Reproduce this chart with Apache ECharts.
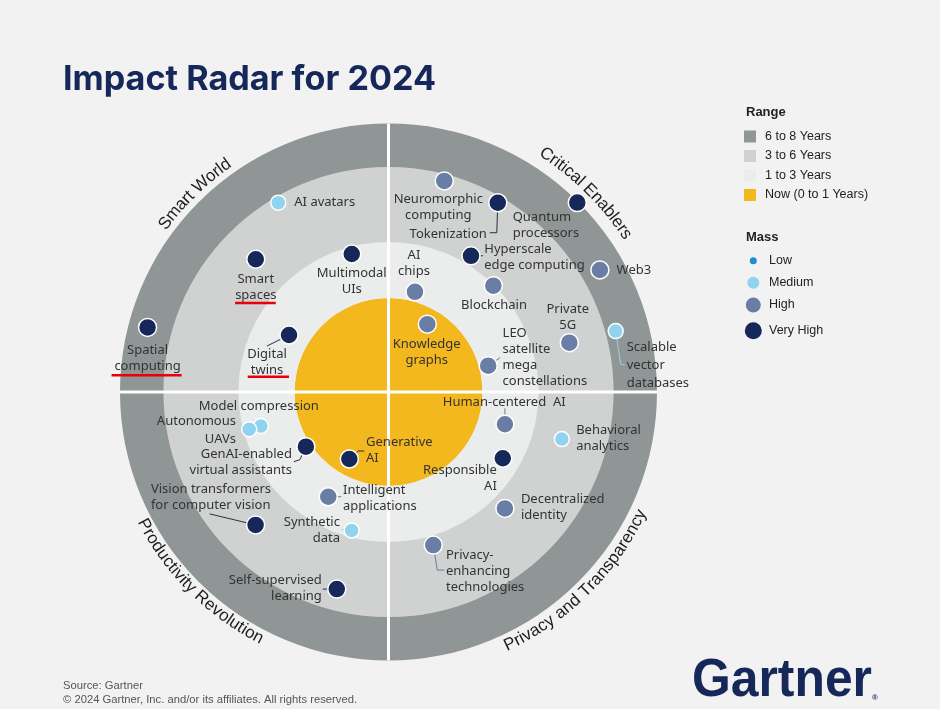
<!DOCTYPE html>
<html><head><meta charset="utf-8">
<script src="https://cdn.jsdelivr.net/npm/echarts@6/dist/echarts.min.js"></script>
<style>html,body{margin:0;padding:0;background:#f2f2f2;} #main{width:940px;height:709px;}</style>
</head><body><div id="main"></div>
<script>
// ---------------- data ----------------
const quadrants = ['Critical Enablers', 'Privacy and Transparency', 'Productivity Revolution', 'Smart World'];
const quadrantTitleAngle = [45.2, 314.7, 225.2, 134.4];     // degrees, anticlockwise from east
const ranges = ['Now (0 to 1 Years)', '1 to 3 Years', '3 to 6 Years', '6 to 8 Years'];
const rangeOuter = [35, 55.9, 83.8, 100];                    // ring outer edge, radar distance units
const massLevels = ['Low', 'Medium', 'High', 'Very High'];

const techNames = ['AI avatars', 'Smart spaces', 'Multimodal UIs', 'Spatial computing', 'Digital twins',
  'Neuromorphic computing', 'Tokenization', 'Quantum processors', 'Hyperscale edge computing', 'Web3',
  'AI chips', 'Blockchain', 'Private 5G', 'Scalable vector databases', 'Knowledge graphs',
  'LEO satellite mega constellations', 'Model compression', 'Autonomous UAVs',
  'GenAI-enabled virtual assistants', 'Generative AI', 'Vision transformers for computer vision',
  'Intelligent applications', 'Synthetic data', 'Self-supervised learning', 'Human-centered AI',
  'Behavioral analytics', 'Responsible AI', 'Decentralized identity', 'Privacy-enhancing technologies'];
const techLabels = ['AI avatars', 'Smart\nspaces', 'Multimodal\nUIs', 'Spatial\ncomputing', 'Digital\ntwins',
  'Neuromorphic\ncomputing', 'Tokenization', 'Quantum\nprocessors', 'Hyperscale\nedge computing', 'Web3',
  'AI\nchips', 'Blockchain', 'Private\n5G', 'Scalable\nvector\ndatabases', 'Knowledge\ngraphs',
  'LEO\nsatellite\nmega\nconstellations', 'Model compression', 'Autonomous\nUAVs',
  'GenAI-enabled\nvirtual assistants', 'Generative\nAI', 'Vision transformers\nfor computer vision',
  'Intelligent\napplications', 'Synthetic\ndata', 'Self-supervised\nlearning', 'Human-centered  AI',
  'Behavioral\nanalytics', 'Responsible\nAI', 'Decentralized\nidentity', 'Privacy-\nenhancing\ntechnologies'];
const techRadius = [81.6, 69.9, 53.2, 92.9, 42.7, 81.3, 81.4, 99.6, 59.3, 90.9, 38.6, 55.6, 69.8, 87.6, 29.1,
  38.4, 49.2, 53.7, 36.9, 28.9, 70.0, 45.0, 53.4, 75.9, 45.0, 66.9, 49.2, 61.3, 59.4];
const techAngle = [120.2, 135.0, 104.9, 165.0, 150.2, 75.2, 60.0, 45.1, 58.8, 30.0, 75.2, 45.4, 15.25, 15.0, 60.2,
  14.8, 194.9, 195.0, 213.5, 239.7, 225.0, 240.1, 255.1, 255.3, 344.5, 344.8, 329.9, 315.0, 286.3];
const techMass = ['Medium', 'Very High', 'Very High', 'Very High', 'Very High',
  'High', 'Very High', 'Very High', 'Very High', 'High',
  'High', 'High', 'High', 'Medium', 'High',
  'High', 'Medium', 'Medium', 'Very High', 'Very High', 'Very High',
  'High', 'Medium', 'Very High', 'High',
  'Medium', 'Very High', 'High', 'High'];

// ---------------- layout / style (not data) ----------------
const CX = 388.5, CY = 392, R = 268.5;
const quadrantTitleRadiusPx = [285, 280, 278, 279.5];
const rangeColors = ['#f4b81f', '#ebecec', '#d0d1d1', '#8f9695'];
const massColors = {'Low': '#1a8fd0', 'Medium': '#8fd3ef', 'High': '#6a7da5', 'Very High': '#16285a'};
const massSizes = {'Low': 7, 'Medium': 15, 'High': 18, 'Very High': 18};
// label anchor offset from dot centre [dx, dy, align, lineHeight]
const labelPos = {
  'AI avatars': [16, 0, 'left'], 'Smart spaces': [0, 28, 'center'], 'Multimodal UIs': [0, 27, 'center'],
  'Spatial computing': [0, 31, 'center'], 'Digital twins': [-22, 27.5, 'center'],
  'Neuromorphic computing': [-6, 26, 'center'], 'Tokenization': [-11, 31.6, 'right'],
  'Quantum processors': [-64.6, 22.6, 'left'], 'Hyperscale edge computing': [13.3, 1.3, 'left'],
  'Web3': [16.7, 0, 'left'], 'AI chips': [-1, -28.7, 'center'], 'Blockchain': [0.7, 20, 'center'],
  'Private 5G': [-1.6, -25.7, 'center'], 'Scalable vector databases': [11, 34.3, 'left', 18],
  'Knowledge graphs': [-0.6, 27.7, 'center'], 'LEO satellite mega constellations': [14.4, -8.2, 'left'],
  'Model compression': [-2, -19.3, 'center'], 'Autonomous UAVs': [-13.3, 0.7, 'right', 18],
  'GenAI-enabled virtual assistants': [-14, 16, 'right'], 'Generative AI': [16.7, -8.2, 'left'],
  'Vision transformers for computer vision': [-104.7, -27.5, 'left'],
  'Intelligent applications': [14.7, 1.3, 'left'], 'Synthetic data': [-11.7, 0, 'right'],
  'Self-supervised learning': [-15, -1, 'right'], 'Human-centered AI': [-0.7, -22, 'center'],
  'Behavioral analytics': [14.3, -0.3, 'left'], 'Responsible AI': [-6, 20, 'right'],
  'Decentralized identity': [16, -0.6, 'left'], 'Privacy-enhancing technologies': [12.7, 26, 'left']
};
const connectors = {
  'Digital twins': [[0, 0], [-22, 11]], 'Tokenization': [[0, 0], [-1, 30], [-8, 30]],
  'Scalable vector databases': [[0, 0], [5, 33], [9, 34]], 'Privacy-enhancing technologies': [[0, 0], [4, 25], [11, 25]],
  'GenAI-enabled virtual assistants': [[0, 0], [-6, 13], [-12, 15]], 'Generative AI': [[0, 0], [9, -8], [15, -8]],
  'Vision transformers for computer vision': [[0, 0], [-46, -11]], 'Self-supervised learning': [[0, 0], [-14, 0]],
  'Intelligent applications': [[0, 0], [13, 0]], 'Synthetic data': [[0, 0], [-10, -1]],
  'Human-centered AI': [[0, 0], [0, -16]], 'LEO satellite mega constellations': [[0, 0], [12, -8]],
  'Hyperscale edge computing': [[0, 0], [12, 0]]
};
const underlines = { 'Smart spaces': [-20.7, 20, 43.6], 'Spatial computing': [-36, 34, 47.8], 'Digital twins': [-41.3, 0, 41.8] };

// ---------------- curved quadrant titles ----------------
const ringFont = '17px "Liberation Sans", Arial, sans-serif';
const mctx = document.createElement('canvas').getContext('2d');
mctx.font = ringFont;
const ringChars = [];
quadrants.forEach((q, qi) => {
  const top = quadrantTitleAngle[qi] < 180;
  const rPx = quadrantTitleRadiusPx[qi];
  const total = mctx.measureText(q).width;
  let s = -total / 2;
  for (const ch of q) {
    const w = mctx.measureText(ch).width;
    const mid = s + w / 2; s += w;
    const d = mid / rPx * 180 / Math.PI;
    const a = top ? quadrantTitleAngle[qi] - d : quadrantTitleAngle[qi] + d;
    ringChars.push({ ch, r: rPx / R * 100, a, rot: top ? a - 90 : a - 270 });
  }
});

const chart = echarts.init(document.getElementById('main'), null, { renderer: 'canvas' });

const ringSeries = ranges.map((name, i) => ({
  type: 'bar', name, coordinateSystem: 'polar', polarIndex: 0, stack: 'range', barCategoryGap: '0%',
  silent: true, z: 1, itemStyle: { color: rangeColors[i] },
  data: quadrants.map(() => +(rangeOuter[i] - (i ? rangeOuter[i - 1] : 0)).toFixed(2))
}));

const scatterSeries = massLevels.map(level => ({
  type: 'scatter', name: level, coordinateSystem: 'polar', polarIndex: 1, z: 4,
  symbolSize: massSizes[level],
  itemStyle: { color: massColors[level], borderColor: '#ffffff', borderWidth: 1.5, opacity: 1 },
  label: {
    show: true, position: 'inside', color: '#333', fontSize: 13, lineHeight: 16,
    fontFamily: '"Noto Sans", "Open Sans", sans-serif',
    formatter: p => techLabels[techNames.indexOf(p.name)]
  },
  emphasis: { disabled: true },
  data: techNames.map((n, i) => ({ n, i })).filter(o => techMass[o.i] === level).map(o => {
    const lp = labelPos[o.n];
    const lab = { offset: [lp[0], lp[1]], align: lp[2] };
    if (lp[3]) lab.lineHeight = lp[3];
    return { name: o.n, value: [techRadius[o.i], techAngle[o.i]], label: lab };
  })
}));

const titleSeries = {
  type: 'custom', coordinateSystem: 'polar', polarIndex: 1, z: 3, silent: true,
  data: ringChars.map(c => [c.r, c.a]),
  renderItem: (params, api) => {
    const c = ringChars[params.dataIndex];
    const p = api.coord([c.r, c.a]);
    return { type: 'text', x: p[0], y: p[1], rotation: c.rot * Math.PI / 180,
      style: { text: c.ch, fill: '#1e1e1e', font: ringFont, align: 'center', verticalAlign: 'middle' } };
  }
};

const option = {
  backgroundColor: '#f2f2f2',
  animation: false,
  polar: [{ center: [CX, CY], radius: R }, { center: [CX, CY], radius: R }],
  angleAxis: [
    { polarIndex: 0, type: 'category', data: quadrants, startAngle: 90, z: 2,
      axisLine: { show: false }, axisTick: { show: false }, axisLabel: { show: false },
      splitLine: { show: true, lineStyle: { color: '#ffffff', width: 3 } } },
    { polarIndex: 1, type: 'value', min: 0, max: 360, startAngle: 0, clockwise: false, show: false }
  ],
  radiusAxis: [
    { polarIndex: 0, type: 'value', min: 0, max: 100, show: false },
    { polarIndex: 1, type: 'value', min: 0, max: 100, show: false }
  ],
  series: [...ringSeries, titleSeries, ...scatterSeries]
};
chart.setOption(option);

// ---------------- graphics: title, legends, footer, connectors ----------------
function fitScale(font, text, target) { mctx.font = font; return target / mctx.measureText(text).width; }
const g = [];
const titleText = 'Impact Radar for 2024';
const titleFont = 'bold 34px Inter, Lato, "Liberation Sans", sans-serif';
g.push({ type: 'text', x: 63, y: 80, z: 10, scaleX: fitScale(titleFont, titleText, 373),
  style: { text: titleText, fill: '#16285a', font: titleFont, verticalAlign: 'middle' } });
const legendFont = '12.5px "Liberation Sans", Arial, sans-serif';
g.push({ type: 'text', x: 746, y: 112.5, z: 10, style: { text: 'Range', fill: '#222', font: 'bold 13px "Liberation Sans", Arial, sans-serif', verticalAlign: 'middle' } });
const rangeOrder = [3, 2, 1, 0];
rangeOrder.forEach((ri, k) => {
  const y = 136.5 + k * 19.5;
  g.push({ type: 'rect', z: 10, shape: { x: 744, y: y - 6, width: 12, height: 12 }, style: { fill: rangeColors[ri] } });
  g.push({ type: 'text', x: 765, y, z: 10, style: { text: ranges[ri], fill: '#222', font: legendFont, verticalAlign: 'middle' } });
});
g.push({ type: 'text', x: 746, y: 237, z: 10, style: { text: 'Mass', fill: '#222', font: 'bold 13px "Liberation Sans", Arial, sans-serif', verticalAlign: 'middle' } });
const massY = [260.7, 282.7, 305, 330.7];
const massLegendSize = [7, 12, 15, 17];
massLevels.forEach((m, k) => {
  g.push({ type: 'circle', z: 10, shape: { cx: 753.3, cy: massY[k], r: massLegendSize[k] / 2 }, style: { fill: massColors[m] } });
  g.push({ type: 'text', x: 769, y: massY[k], z: 10, style: { text: m, fill: '#222', font: legendFont, verticalAlign: 'middle' } });
});
const footFont = '11.2px "Liberation Sans Narrow", "Liberation Sans", sans-serif';
const footText = '\u00a9 2024 Gartner, Inc. and/or its affiliates. All rights reserved.';
const footScale = fitScale(footFont, footText, 294);
g.push({ type: 'text', x: 63, y: 686, z: 10, scaleX: footScale, style: { text: 'Source: Gartner', fill: '#555', font: footFont, verticalAlign: 'middle' } });
g.push({ type: 'text', x: 63, y: 699.5, z: 10, scaleX: footScale, style: { text: footText, fill: '#555', font: footFont, verticalAlign: 'middle' } });
const logoFont = 'bold 54px "Liberation Sans Narrow", "Liberation Sans", sans-serif';
g.push({ type: 'text', x: 692, y: 681, z: 10, scaleX: fitScale(logoFont, 'Gartner', 180),
  style: { text: 'Gartner', fill: '#16285a', font: logoFont, verticalAlign: 'middle' } });
g.push({ type: 'text', x: 872, y: 697.5, z: 10, style: { text: '\u00ae', fill: '#16285a', font: 'bold 8px "Liberation Sans", sans-serif', verticalAlign: 'middle' } });

function dotPixel(name) {
  const i = techNames.indexOf(name);
  const si = ringSeries.length + 1 + massLevels.indexOf(techMass[i]);
  return chart.convertToPixel({ seriesIndex: si }, [techRadius[i], techAngle[i]]);
}
Object.keys(connectors).forEach(name => {
  const p = dotPixel(name);
  const i = techNames.indexOf(name);
  g.push({ type: 'polyline', z: 3, silent: true,
    shape: { points: connectors[name].map(o => [p[0] + o[0], p[1] + o[1]]) },
    style: { stroke: techMass[i] === 'Medium' ? '#8fd3ef' : (techMass[i] === 'High' ? '#6a7da5' : '#2a2f40'), lineWidth: 1, fill: null } });
});
Object.keys(underlines).forEach(name => {
  const p = dotPixel(name);
  const u = underlines[name];
  g.push({ type: 'line', z: 10, silent: true,
    shape: { x1: p[0] + u[0], y1: p[1] + u[2], x2: p[0] + u[1], y2: p[1] + u[2] },
    style: { stroke: '#e8000b', lineWidth: 2.5 } });
});
chart.setOption({ graphic: g });
</script></body></html>
